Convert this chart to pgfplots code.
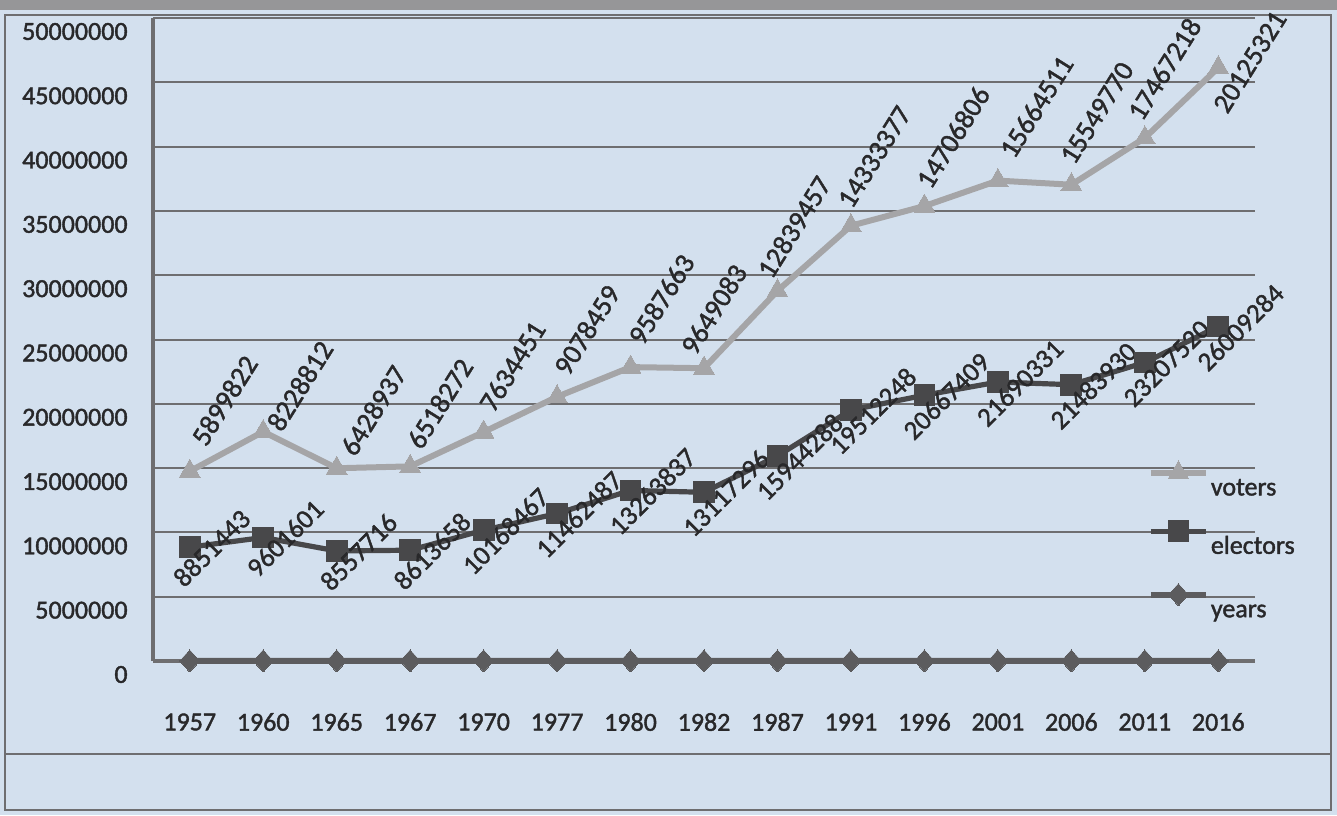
\documentclass[border=0pt]{standalone}
\usepackage{pgfplots}
\pgfplotsset{compat=1.18}
\usepackage{pgfplotstable}
\usepackage{fontspec}
\setmainfont{Carlito}[FakeBold=1.5]
\definecolor{bg}{RGB}{211,224,238}
\definecolor{band}{RGB}{150,150,152}
\definecolor{gridc}{RGB}{110,110,112}
\definecolor{voterc}{RGB}{165,165,167}
\definecolor{electc}{RGB}{72,72,74}
\definecolor{yearc}{RGB}{92,92,94}
\definecolor{txt}{RGB}{40,40,42}

\pgfplotstableread{
idx year electors voters vdx vdy
0  1957  8851443  5899822   2.5 11.5
1  1960  9601601  8228812   3.5 -1
2  1965  8557716  6428937   3.5  5
3  1967  8613658  6518272   0    7.5
4  1970 10168467  7634451  -0.5  9
5  1977 11462487  9078459   0    9.5
6  1980 13263837  9587663   0.5 10
7  1982 13117296  9649083 -10    5.5
8  1987 15944288 12839457  -8.5  5
9  1991 19512248 14333377  -5    7.5
10 1996 20667409 14706806  -2.5  7.5
11 2001 21690331 15664511   2.5 10
12 2006 21483930 15549770  -4    9
13 2011 23207520 17467218  -7    7.5
14 2016 26009284 20125321  -1  -24
}\chartdata

\begin{document}
\begin{tikzpicture}
\useasboundingbox (0,0) rectangle (668.5pt,407.5pt);
\fill[bg] (0,0) rectangle (668.5pt,407.5pt);
\fill[band] (0,402.5pt) rectangle (668.5pt,407.5pt);
\draw[gridc, line width=1.2pt] (2.5pt,2.5pt) rectangle (665.5pt,400pt);
\draw[gridc, line width=1.2pt] (2.5pt,30.5pt) -- (665.5pt,30.5pt);
\begin{axis}[
  at={(76.5pt,77pt)}, anchor=south west,
  scale only axis, width=551pt, height=321.5pt,
  xmin=-0.5, xmax=14.5, ymin=0, ymax=50000000,
  stack plots=y,
  clip=false,
  axis x line=bottom, axis y line=left,
  axis line style={-, gridc, line width=2pt},
  xtick={0,1,2,3,4,5,6,7,8,9,10,11,12,13,14},
  xticklabels={1957,1960,1965,1967,1970,1977,1980,1982,1987,1991,1996,2001,2006,2011,2016},
  ytick={0,5000000,10000000,15000000,20000000,25000000,30000000,35000000,40000000,45000000,50000000},
  yticklabels={0,5000000,10000000,15000000,20000000,25000000,30000000,35000000,40000000,45000000,50000000},
  scaled y ticks=false,
  major tick length=0pt,
  ymajorgrids,
  grid style={gridc, line width=1pt},
  tick label style={font=\fontsize{13}{15}\selectfont, text=txt},
  yticklabel style={anchor=east, inner sep=0pt, xshift=-12.5pt, yshift=-6.75pt},
  xticklabel style={anchor=center, inner sep=0pt, yshift=-30.5pt},
  legend image code/.code={\draw[mark repeat=2,mark phase=2,#1] plot coordinates {(0pt,0pt) (13.75pt,0pt) (27.5pt,0pt)};},
  reverse legend,
  legend cell align=left,
  legend style={draw=none, fill=none, at={(rel axis cs:0.897,0.318)}, anchor=north west,
    font=\fontsize{13}{15}\selectfont, text=txt, row sep=21pt,
    /tikz/every odd column/.append style={column sep=-1pt}},
]
\addplot[yearc, line width=3pt, mark=diamond*, mark size=5.5pt, mark options={solid, fill=yearc, draw=yearc, line width=0pt, xscale=1.2}]
  table[x=idx, y=year] {\chartdata};
\addlegendentry{\raisebox{-12pt}[0pt][0pt]{years}}
\addplot[electc, line width=2.6pt, mark=square*, mark size=5.2pt, mark options={solid, fill=electc, draw=electc, line width=0pt},
  nodes near coords, point meta=explicit symbolic,
  nodes near coords style={font=\fontsize{13.5}{16}\selectfont, text=txt, anchor=center, xshift=11pt, yshift=-0.5pt, rotate=45}]
  table[x=idx, y=electors, meta=electors] {\chartdata};
\addlegendentry{\raisebox{-12pt}[0pt][0pt]{electors}}
\addplot[voterc, line width=3pt, mark=triangle*, mark size=6pt, mark options={solid, fill=voterc, draw=voterc, line width=0pt},
  nodes near coords, point meta=explicit symbolic,
  visualization depends on={\thisrow{vdx} \as \vdx},
  visualization depends on={\thisrow{vdy} \as \vdy},
  nodes near coords style={font=\fontsize{14}{16}\selectfont, text=txt, anchor=west, xshift=\vdx pt, yshift=\vdy pt, rotate=58}]
  table[x=idx, y=voters, meta=voters] {\chartdata};
\addlegendentry{\raisebox{-12pt}[0pt][0pt]{voters}}
\end{axis}
\end{tikzpicture}
\end{document}
